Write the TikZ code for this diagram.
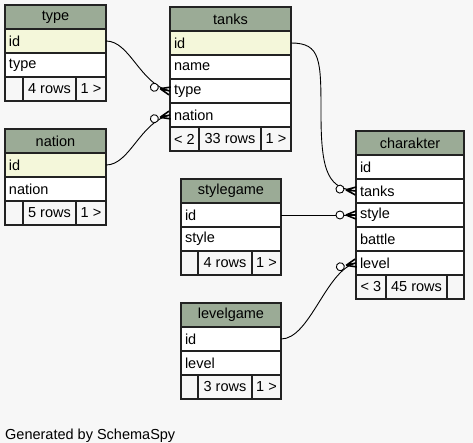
\documentclass[tikz,border=0pt]{standalone}
\usepackage{fontspec}
\setmainfont{Liberation Sans}
\usetikzlibrary{positioning, decorations.markings}
\definecolor{pagebg}{HTML}{F7F7F7}
\definecolor{hdrgreen}{HTML}{9BAB96}
\definecolor{pkyellow}{HTML}{F4F7DA}
\definecolor{tblline}{HTML}{222222}

\tikzset{
    cell/.style={draw=tblline, line width=1.4pt, inner sep=0pt, outer sep=0pt,
        minimum height=24pt, font=\fontsize{14.5}{16}\selectfont},
    hdr/.style={cell, fill=hdrgreen, text width=#1, inner xsep=4pt, align=center, anchor=north west},
    row/.style={cell, fill=white, text width=#1, inner xsep=4pt, align=left},
    pk/.style={row=#1, fill=pkyellow},
    foot/.style={cell, fill=pagebg, minimum width=#1},
    rel/.style={line width=0.9pt, black, postaction={decorate},
        decoration={markings, mark=at position 0.999 with {
            \draw[line width=1.6pt] (-10pt,0) -- (0,4pt) (-10pt,0) -- (0,-4pt) (-10pt,0) -- (0,0);
            \draw[line width=0.9pt, fill=white] (-16pt,0) circle (4pt);}}}
}

\begin{document}
\begin{tikzpicture}[x=1pt, y=-1pt]
    % Background
    \fill[pagebg] (0,0) rectangle (473,443);
    \useasboundingbox (0,0) rectangle (473,443);

    % type
    \node[hdr=93pt] (type-h) at (5,5) {type};
    \node[pk=93pt, below=0pt of type-h] (type-id) {id};
    \node[row=93pt, below=0pt of type-id] (type-type) {type};
    \node[foot=18pt, anchor=north west] (type-f1) at (type-type.south west) {};
    \node[foot=53pt, right=0pt of type-f1] (type-f2) {4 rows};
    \node[foot=30pt, right=0pt of type-f2] (type-f3) {1 >};

    % nation
    \node[hdr=93pt] (nation-h) at (5,129) {nation};
    \node[pk=93pt, below=0pt of nation-h] (nation-id) {id};
    \node[row=93pt, below=0pt of nation-id] (nation-nation) {nation};
    \node[foot=18pt, anchor=north west] (nation-f1) at (nation-nation.south west) {};
    \node[foot=53pt, right=0pt of nation-f1] (nation-f2) {5 rows};
    \node[foot=30pt, right=0pt of nation-f2] (nation-f3) {1 >};

    % tanks
    \node[hdr=113pt] (tanks-h) at (170,7) {tanks};
    \node[pk=113pt, below=0pt of tanks-h] (tanks-id) {id};
    \node[row=113pt, below=0pt of tanks-id] (tanks-name) {name};
    \node[row=113pt, below=0pt of tanks-name] (tanks-type) {type};
    \node[row=113pt, below=0pt of tanks-type] (tanks-nation) {nation};
    \node[foot=29pt, anchor=north west] (tanks-f1) at (tanks-nation.south west) {< 2};
    \node[foot=62pt, right=0pt of tanks-f1] (tanks-f2) {33 rows};
    \node[foot=30pt, right=0pt of tanks-f2] (tanks-f3) {1 >};

    % stylegame
    \node[hdr=92pt] (style-h) at (181,179) {stylegame};
    \node[row=92pt, below=0pt of style-h] (style-id) {id};
    \node[row=92pt, below=0pt of style-id] (style-style) {style};
    \node[foot=17pt, anchor=north west] (style-f1) at (style-style.south west) {};
    \node[foot=54pt, right=0pt of style-f1] (style-f2) {4 rows};
    \node[foot=29pt, right=0pt of style-f2] (style-f3) {1 >};

    % levelgame
    \node[hdr=92pt] (level-h) at (181,303) {levelgame};
    \node[row=92pt, below=0pt of level-h] (level-id) {id};
    \node[row=92pt, below=0pt of level-id] (level-level) {level};
    \node[foot=17pt, anchor=north west] (level-f1) at (level-level.south west) {};
    \node[foot=54pt, right=0pt of level-f1] (level-f2) {3 rows};
    \node[foot=29pt, right=0pt of level-f2] (level-f3) {1 >};

    % charakter
    \node[hdr=100pt] (char-h) at (356,131) {charakter};
    \node[row=100pt, below=0pt of char-h] (char-id) {id};
    \node[row=100pt, below=0pt of char-id] (char-tanks) {tanks};
    \node[row=100pt, below=0pt of char-tanks] (char-style) {style};
    \node[row=100pt, below=0pt of char-style] (char-battle) {battle};
    \node[row=100pt, below=0pt of char-battle] (char-level) {level};
    \node[foot=30pt, anchor=north west] (char-f1) at (char-level.south west) {< 3};
    \node[foot=61pt, right=0pt of char-f1] (char-f2) {45 rows};
    \node[foot=17pt, right=0pt of char-f2] (char-f3) {};

    % Relations
    \draw[rel] (type-id.east) .. controls (130,41) and (140,84) .. (tanks-type.west);
    \draw[rel] (nation-id.east) .. controls (130,165) and (140,122) .. (tanks-nation.west);
    \draw[rel] (tanks-id.east) .. controls (321,43) and (321,60) .. (321,115)
        .. controls (321,176) and (330,188) .. (char-tanks.west);
    \draw[rel] (style-id.east) -- (char-style.west);
    \draw[rel] (level-id.east) .. controls (310,339) and (326,270) .. (char-level.west);

    \node[anchor=base west, font=\fontsize{14.5}{16}\selectfont, inner sep=0pt] (credit) at (5,439) {Generated by SchemaSpy};
\end{tikzpicture}
\end{document}
